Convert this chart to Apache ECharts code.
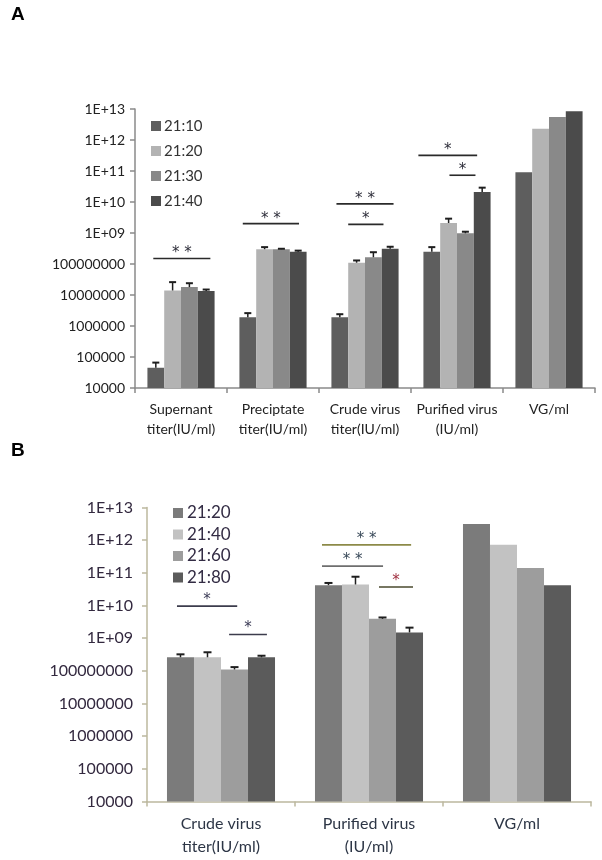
<!DOCTYPE html>
<html>
<head>
<meta charset="utf-8">
<script src="https://cdn.jsdelivr.net/npm/echarts@6/dist/echarts.min.js"></script>
<style>
html,body{margin:0;padding:0;background:#fff;}
#chart{width:602px;height:860px;}
</style>
</head>
<body>
<div id="chart"></div>
<script>
// ---------- Panel A data ----------
const categoriesA = ['Supernant\ntiter(IU/ml)', 'Preciptate\ntiter(IU/ml)', 'Crude virus\ntiter(IU/ml)', 'Purified virus\n(IU/ml)', 'VG/ml'];
const seriesNamesA = ['21:10', '21:20', '21:30', '21:40'];
const valuesA_2110 = [4.5e4, 1.9e6, 1.9e6, 2.5e8, 9.1e10];
const valuesA_2120 = [1.4e7, 3.0e8, 1.1e8, 2.1e9, 2.3e12];
const valuesA_2130 = [1.8e7, 3.0e8, 1.65e8, 9.8e8, 5.5e12];
const valuesA_2140 = [1.35e7, 2.5e8, 3.1e8, 2.1e10, 8.5e12];
// upper ends of the error bars (null = no error bar)
const errTopA_2110 = [6.6e4, 2.6e6, 2.4e6, 3.5e8, null];
const errTopA_2120 = [2.6e7, 3.5e8, 1.3e8, 2.9e9, null];
const errTopA_2130 = [2.4e7, 3.1e8, 2.4e8, 1.1e9, null];
const errTopA_2140 = [1.5e7, 2.7e8, 3.6e8, 2.9e10, null];
// significance brackets: [category index, y value, from bar, to bar]
const bracketsA = [[0, 1.5e8, -0.15, 3.25], [1, 2.0e9, -0.3, 3.05], [2, 8.7e9, -0.2, 3.2], [2, 1.9e9, 0.5, 2.6], [3, 3.2e11, -0.8, 2.7], [3, 7.3e10, 1.05, 2.6]];
const bracketLabelsA = ['* *', '* *', '* *', '*', '*', '*'];

// ---------- Panel B data ----------
const categoriesB = ['Crude virus\ntiter(IU/ml)', 'Purified virus\n(IU/ml)', 'VG/ml'];
const seriesNamesB = ['21:20', '21:40', '21:60', '21:80'];
const valuesB_2120 = [2.6e8, 4.2e10, 3.1e12];
const valuesB_2140 = [2.6e8, 4.4e10, 7.2e11];
const valuesB_2160 = [1.1e8, 3.9e9, 1.4e11];
const valuesB_2180 = [2.6e8, 1.5e9, 4.2e10];
const errTopB_2120 = [3.2e8, 4.9e10, null];
const errTopB_2140 = [3.7e8, 7.6e10, null];
const errTopB_2160 = [1.3e8, 4.3e9, null];
const errTopB_2180 = [2.9e8, 2.1e9, null];
const bracketsB = [[0, 9.6e9, -0.13, 2.1], [0, 1.3e9, 1.8, 3.2], [1, 7.2e11, -0.24, 3.06], [1, 1.6e11, -0.24, 2.02], [1, 3.7e10, 1.87, 3.13]];
const bracketLabelsB = ['*', '*', '* *', '* *', '*'];

// ---------- styles ----------
const colorsA = ['#5e5e5e', '#b3b3b3', '#898989', '#4b4b4b'];
const colorsB = ['#7b7b7b', '#c2c2c2', '#9d9d9d', '#5b5b5b'];
const bracketLineColorsB = ['#3c3c4c', '#3c3c4c', '#8c8a48', '#6e6e6e', '#4a4a2e'];
const bracketTextColorsB = ['#3a3a55', '#3a3a55', '#3a4a5a', '#3a4a5a', '#a03040'];
const CAT_GAP = 0.27;

const valsA = [valuesA_2110, valuesA_2120, valuesA_2130, valuesA_2140];
const errsA = [errTopA_2110, errTopA_2120, errTopA_2130, errTopA_2140];
const valsB = [valuesB_2120, valuesB_2140, valuesB_2160, valuesB_2180];
const errsB = [errTopB_2120, errTopB_2140, errTopB_2160, errTopB_2180];

function yFmt(v) {
  const e = Math.round(Math.log10(v));
  if (e >= 9) return '1E+' + (e < 10 ? '0' + e : e);
  return String(Math.round(v));
}

function errorSeries(vals, errs, sIdx, axisIdx, capHalf) {
  return {
    type: 'custom', xAxisIndex: axisIdx, yAxisIndex: axisIdx, z: 5, silent: true,
    data: vals.map((v, i) => [i, v, errs[i] == null ? 0 : errs[i]]),
    renderItem: function (params, api) {
      const cat = api.value(0), v = api.value(1), top = api.value(2);
      if (!top) return null;
      const band = api.size([1, 0], [cat, v])[0];
      const bw = band * (1 - CAT_GAP) / 4;
      const p0 = api.coord([cat, v]);
      const p1 = api.coord([cat, top]);
      const x = p0[0] + (sIdx - 1.5) * bw;
      return {
        type: 'group', children: [
          { type: 'line', shape: { x1: x, y1: p0[1], x2: x, y2: p1[1] }, style: { stroke: '#1e1e1e', lineWidth: 1.5 } },
          { type: 'line', shape: { x1: x - capHalf, y1: p1[1], x2: x + capHalf, y2: p1[1] }, style: { stroke: '#1e1e1e', lineWidth: 2 } }
        ]
      };
    }
  };
}

function bracketSeries(brs, labels, axisIdx, lineColors, textColors, fontSize, textOff) {
  return {
    type: 'custom', xAxisIndex: axisIdx, yAxisIndex: axisIdx, z: 6, silent: true,
    data: brs.map(b => [b[0], b[1], b[2], b[3]]),
    renderItem: function (params, api) {
      const i = params.dataIndex;
      const cat = api.value(0), y = api.value(1), s = api.value(2), e = api.value(3);
      const band = api.size([1, 0], [cat, y])[0];
      const bw = band * (1 - CAT_GAP) / 4;
      const p = api.coord([cat, y]);
      const x1 = p[0] + (s - 1.5) * bw, x2 = p[0] + (e - 1.5) * bw;
      return {
        type: 'group', children: [
          { type: 'line', shape: { x1: x1, y1: p[1], x2: x2, y2: p[1] }, style: { stroke: lineColors[i], lineWidth: 1.6 } },
          { type: 'text', x: (x1 + x2) / 2, y: p[1] - textOff, style: { text: labels[i], fill: textColors[i], font: fontSize + 'px "DejaVu Sans"', align: 'center', verticalAlign: 'middle' } }
        ]
      };
    }
  };
}

const series = [];
seriesNamesA.forEach((n, k) => series.push({
  name: n, type: 'bar', xAxisIndex: 0, yAxisIndex: 0, data: valsA[k], clip: true,
  barGap: '0%', barCategoryGap: (CAT_GAP * 100) + '%', itemStyle: { color: colorsA[k] }
}));
seriesNamesB.forEach((n, k) => series.push({
  name: n, type: 'bar', xAxisIndex: 1, yAxisIndex: 1, data: valsB[k], clip: true,
  barGap: '0%', barCategoryGap: (CAT_GAP * 100) + '%', itemStyle: { color: colorsB[k] }
}));
for (let k = 0; k < 4; k++) series.push(errorSeries(valsA[k], errsA[k], k, 0, 3.5));
for (let k = 0; k < 4; k++) series.push(errorSeries(valsB[k], errsB[k], k, 1, 4));
series.push(bracketSeries(bracketsA, bracketLabelsA, 0, bracketsA.map(() => '#2a2a2a'), bracketsA.map(() => '#2e2e3a'), 15, 5));
series.push(bracketSeries(bracketsB, bracketLabelsB, 1, bracketLineColorsB, bracketTextColorsB, 15, 6));

const axisA = '#8a8a8a', axisB = '#bcb89e';
const option = {
  animation: false,
  backgroundColor: '#fff',
  graphic: [
    { type: 'text', left: 11, top: 5, style: { text: 'A', font: 'bold 19px "Liberation Sans"', fill: '#000' } },
    { type: 'text', left: 11, top: 441, style: { text: 'B', font: 'bold 19px "Liberation Sans"', fill: '#000' } }
  ],
  legend: [
    {
      orient: 'vertical', left: 146, top: 113, itemWidth: 10, itemHeight: 10, itemGap: 9, icon: 'rect',
      textStyle: { fontFamily: 'Lato', fontSize: 15, color: '#333', lineHeight: 16, padding: [0, 0, 0, -2] },
      data: seriesNamesA.map((n, k) => ({ name: n, itemStyle: { color: colorsA[k] } }))
    },
    {
      orient: 'vertical', left: 168, top: 499, itemWidth: 10, itemHeight: 10, itemGap: 3.5, icon: 'rect',
      textStyle: { fontFamily: 'Lato', fontSize: 17, color: '#332c44', lineHeight: 18, padding: [0, 0, 0, -1] },
      data: seriesNamesB.map((n, k) => ({ name: n, itemStyle: { color: colorsB[k] } }))
    }
  ],
  grid: [
    { left: 135, top: 109, width: 460, height: 279 },
    { left: 147, top: 507.5, width: 444, height: 294 }
  ],
  xAxis: [
    {
      type: 'category', gridIndex: 0, data: categoriesA,
      axisLine: { lineStyle: { color: axisA, width: 1.5 } },
      axisTick: { show: true, length: 5, lineStyle: { color: axisA, width: 1.5 } },
      axisLabel: { fontFamily: 'Lato', fontSize: 14, color: '#222', margin: 11, lineHeight: 20, interval: 0 }
    },
    {
      type: 'category', gridIndex: 1, data: categoriesB,
      axisLine: { lineStyle: { color: axisB, width: 1.5 } },
      axisTick: { show: true, length: 5, lineStyle: { color: axisB, width: 1.5 } },
      axisLabel: { fontFamily: 'Lato', fontSize: 16, color: '#2d3646', margin: 11, lineHeight: 23, interval: 0 }
    }
  ],
  yAxis: [
    {
      type: 'log', logBase: 10, gridIndex: 0, min: 1e4, max: 1e13, splitNumber: 9,
      axisLine: { show: true, lineStyle: { color: axisA, width: 1.5 } },
      axisTick: { show: true, length: 5, lineStyle: { color: axisA, width: 1.5 } },
      splitLine: { show: false }, minorTick: { show: false },
      axisLabel: { fontFamily: 'Lato', fontSize: 14, color: '#222', margin: 10, formatter: yFmt }
    },
    {
      type: 'log', logBase: 10, gridIndex: 1, min: 1e4, max: 1e13, splitNumber: 9,
      axisLine: { show: true, lineStyle: { color: axisB, width: 1.5 } },
      axisTick: { show: true, length: 5, lineStyle: { color: axisB, width: 1.5 } },
      splitLine: { show: false }, minorTick: { show: false },
      axisLabel: { fontFamily: 'Lato', fontSize: 16, color: '#33293f', margin: 14, formatter: yFmt }
    }
  ],
  series: series
};

const chart = echarts.init(document.getElementById('chart'), null, { renderer: 'canvas' });
chart.setOption(option);
</script>
</body>
</html>
